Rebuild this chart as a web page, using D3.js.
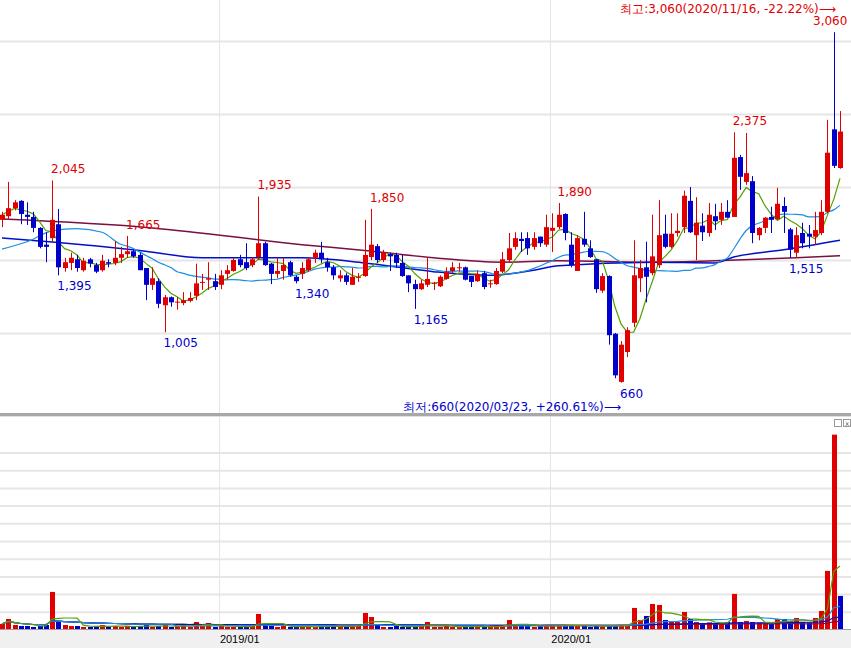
<!DOCTYPE html>
<html>
<head>
<script src="https://cdn.jsdelivr.net/npm/d3@7"></script>
<style>
  * { margin: 0; padding: 0; }
  body { background: #fff; font-family: 'DejaVu Sans', sans-serif; }
</style>
</head>
<body>
<svg id="chart" width="851" height="648"></svg>
<script>
// weekly candles [open, high, low, close]
var ohlc = [
[1775,1830,1725,1810],[1800,2035,1775,1855],[1855,1910,1840,1895],[1905,1910,1745,1815],[1810,1895,1740,1795],
[1795,1830,1690,1720],[1720,1725,1580,1590],[1605,1690,1485,1590],[1650,2045,1625,1775],[1745,1850,1395,1450],
[1445,1515,1420,1485],[1480,1550,1430,1515],[1505,1535,1420,1445],[1430,1515,1420,1495],[1505,1515,1450,1475],
[1465,1480,1410,1420],[1430,1535,1420,1495],[1485,1505,1450,1475],[1480,1630,1465,1515],[1515,1590,1480,1540],
[1540,1665,1515,1560],[1560,1570,1515,1525],[1535,1550,1430,1430],[1445,1445,1225,1330],[1330,1450,1295,1375],
[1355,1375,1170,1200],[1190,1260,1005,1245],[1245,1250,1180,1210],[1210,1245,1160,1215],[1205,1280,1190,1225],
[1220,1280,1210,1240],[1255,1475,1225,1340],[1345,1405,1295,1350],[1365,1485,1295,1375],[1355,1405,1295,1315],
[1330,1430,1300,1395],[1405,1465,1365,1430],[1425,1515,1420,1500],[1505,1535,1450,1465],[1485,1615,1430,1445],
[1465,1520,1450,1505],[1520,1935,1500,1615],[1615,1625,1460,1465],[1475,1480,1335,1405],[1405,1515,1375,1425],
[1425,1515,1365,1465],[1485,1495,1385,1395],[1385,1395,1340,1355],[1405,1485,1370,1445],[1430,1515,1420,1505],
[1515,1570,1480,1550],[1550,1625,1480,1505],[1485,1515,1420,1450],[1450,1465,1365,1395],[1375,1430,1350,1395],
[1395,1410,1330,1350],[1330,1445,1330,1385],[1380,1410,1350,1385],[1390,1775,1385,1535],[1520,1850,1500,1605],
[1595,1610,1480,1500],[1500,1570,1485,1550],[1540,1550,1425,1525],[1535,1550,1445,1480],[1480,1535,1385,1390],
[1395,1395,1280,1340],[1335,1365,1165,1300],[1300,1365,1295,1340],[1330,1520,1315,1370],[1340,1350,1295,1345],
[1320,1395,1315,1385],[1370,1450,1365,1420],[1425,1485,1410,1450],[1445,1480,1420,1450],[1450,1455,1360,1365],
[1390,1390,1315,1350],[1355,1430,1350,1405],[1410,1425,1300,1315],[1335,1365,1310,1340],[1335,1445,1330,1425],
[1420,1555,1410,1505],[1500,1685,1480,1580],[1590,1690,1570,1650],[1645,1690,1555,1630],[1650,1690,1535,1580],
[1590,1690,1570,1650],[1660,1660,1590,1615],[1605,1810,1590,1725],[1700,1820,1555,1720],[1725,1890,1710,1810],
[1815,1820,1635,1685],[1605,1690,1450,1465],[1425,1670,1425,1650],[1645,1830,1590,1605],[1580,1635,1515,1520],
[1505,1505,1275,1300],[1290,1410,1275,1390],[1390,1395,920,985],[995,1000,690,710],[665,945,660,920],
[870,1040,835,1020],[1070,1635,1040,1395],[1375,1500,1280,1445],[1450,1625,1210,1385],[1410,1810,1395,1525],
[1465,1910,1445,1670],[1680,1810,1580,1590],[1590,1820,1580,1680],[1685,1820,1660,1700],[1725,1975,1685,1940],
[1905,2000,1685,1690],[1670,1930,1500,1755],[1735,1820,1630,1690],[1685,1890,1660,1810],[1800,1885,1705,1765],
[1775,1890,1740,1830],[1830,1910,1790,1790],[1795,2375,1795,2200],[2205,2220,1980,2070],[2035,2370,2015,2095],
[2040,2075,1615,1685],[1670,1725,1635,1720],[1720,1795,1685,1790],[1795,1865,1685,1775],[1780,1995,1775,1885],
[1870,1930,1685,1830],[1710,1720,1515,1570],[1550,1725,1515,1670],[1685,1755,1580,1615],[1680,1740,1580,1660],
[1660,1830,1605,1705],[1685,1910,1670,1830],[1830,2460,1820,2235],[2395,3060,2130,2145],[2130,2520,2125,2380]
];
// weekly volume (thousand shares)
var volume = [
180,330,150,120,120,90,120,150,1140,240,150,120,120,90,90,120,150,90,120,90,
120,90,120,150,90,120,150,90,120,150,90,240,120,210,90,120,90,90,120,90,
120,480,150,120,90,120,90,90,120,90,90,120,90,150,90,120,90,120,510,390,
150,90,90,120,90,120,90,120,240,90,90,120,90,90,120,90,120,90,90,120,
150,300,150,120,120,90,120,150,120,150,120,150,120,120,90,120,90,150,120,150,
120,660,300,420,780,750,300,270,240,540,330,240,200,230,200,200,240,1080,240,270,
240,220,200,180,330,330,260,360,240,230,360,570,1770,5850,1020
];
var volColorOverride = {133: 'up', 134: 'down'};

// moving averages (index, price)
var ma20Start = [[0,1575],[4,1625],[8,1700],[12,1715],[16,1690]];
var ma60 = [[0,1650],[9,1620],[22,1565],[32,1515],[48,1515],[58,1480],[69,1420],[78,1395],[85,1430],[89,1460],[104,1485],[114,1480],[117,1520],[125,1570],[134,1635]];
var ma120 = [[0,1780],[24,1720],[48,1605],[58,1565],[69,1515],[80,1485],[89,1495],[104,1485],[114,1495],[127,1515],[134,1530]];

var highLabels = [[8,'2,045'],[20,'1,665'],[41,'1,935'],[59,'1,850'],[89,'1,890'],[117,'2,375'],[133,'3,060']];
var lowLabels = [[9,'1,395'],[26,'1,005'],[47,'1,340'],[66,'1,165'],[99,'660'],[126,'1,515']];
var priceGrid = [1000, 1500, 2000, 2500, 3000];
var xTickIndex = [35, 88];
var xTickLabels = ['2019/01', '2020/01'];
var maxText = '최고:3,060(2020/11/16, -22.22%)⟶';
var minText = '최저:660(2020/03/23, +260.61%)⟶';

var UP = '#e00000', DOWN = '#0000cc';
var MA_COLORS = ['#55a000', '#1c8fe0', '#0010c8', '#7a1040'];

var svg = d3.select('#chart');
var W = 851;
var x = d3.scaleLinear().domain([0, ohlc.length - 1]).range([2, 840]);
var y = d3.scaleLinear().domain([1000, 1500]).range([333, 260]);
var vy = d3.scaleLinear().domain([0, 6360]).range([630, 417.6]);

function movingAvg(arr, n) {
    return arr.map(function(d, i) {
        var s = arr.slice(Math.max(0, i - n + 1), i + 1);
        return d3.mean(s);
    });
}

// grids
svg.selectAll('.pg').data(priceGrid).enter().append('line')
    .attr('x1', 0).attr('x2', W).attr('y1', function(d){ return Math.round(y(d)) + 0.5; })
    .attr('y2', function(d){ return Math.round(y(d)) + 0.5; })
    .attr('stroke', '#e6e6e6').attr('stroke-width', 2);
svg.selectAll('.vg').data(d3.range(1, 11)).enter().append('line')
    .attr('x1', 0).attr('x2', W).attr('y1', function(d){ return vy(d * 530) ; })
    .attr('y2', function(d){ return vy(d * 530); })
    .attr('stroke', '#e6e6e6').attr('stroke-width', 2);
svg.selectAll('.xg').data(xTickIndex).enter().append('line')
    .attr('x1', function(d){ return Math.round(x(d)) - 1.5; }).attr('x2', function(d){ return Math.round(x(d)) - 1.5; })
    .attr('y1', 0).attr('y2', 628).attr('stroke', '#e6e6e6');

// panel separator
svg.append('rect').attr('x', 0).attr('y', 413).attr('width', W).attr('height', 3).attr('fill', '#a8a8a8');
svg.append('line').attr('x1', 0).attr('x2', W).attr('y1', 416.5).attr('y2', 416.5).attr('stroke', '#e0e0e0');

// moving averages of price
var closes = ohlc.map(function(d){ return d[3]; });
var line = d3.line().x(function(d){ return x(d[0]); }).y(function(d){ return y(d[1]); });
var smooth = d3.line().curve(d3.curveMonotoneX).x(function(d){ return x(d[0]); }).y(function(d){ return y(d[1]); });
svg.append('path').attr('d', smooth(ma120)).attr('fill', 'none').attr('stroke', MA_COLORS[3]).attr('stroke-width', 1.5);
svg.append('path').attr('d', smooth(ma60)).attr('fill', 'none').attr('stroke', MA_COLORS[2]).attr('stroke-width', 1.5);
var ma20 = movingAvg(closes, 20).map(function(v, i){ return [i, v]; }).filter(function(d){ return d[0] >= 19; });
svg.append('path').attr('d', smooth(ma20Start.concat(ma20))).attr('fill', 'none').attr('stroke', MA_COLORS[1]).attr('stroke-width', 1.2);
var ma5 = movingAvg(closes, 5).map(function(v, i){ return [i, v]; });
svg.append('path').attr('d', line(ma5)).attr('fill', 'none').attr('stroke', MA_COLORS[0]).attr('stroke-width', 1.2);

// candles
var c = svg.selectAll('.candle').data(ohlc).enter().append('g');
function col(d) { return d[3] >= d[0] ? UP : DOWN; }
c.append('line')
    .attr('x1', function(d, i){ return Math.round(x(i)) + 0.5; })
    .attr('x2', function(d, i){ return Math.round(x(i)) + 0.5; })
    .attr('y1', function(d){ return y(d[1]); }).attr('y2', function(d){ return y(d[2]); })
    .attr('stroke', col);
c.append('rect')
    .attr('x', function(d, i){ return Math.round(x(i)) - 2; })
    .attr('width', 5)
    .attr('y', function(d){ return y(Math.max(d[0], d[3])); })
    .attr('height', function(d){ return Math.max(1, Math.abs(y(d[0]) - y(d[3]))); })
    .attr('fill', col);

// high / low labels
svg.selectAll('.hl').data(highLabels).enter().append('text')
    .attr('x', function(d){ return Math.min(x(d[0]) - 1, W - 38); })
    .attr('y', function(d){ return y(ohlc[d[0]][1]) - 7; })
    .attr('fill', UP).attr('font-size', 12).text(function(d){ return d[1]; });
svg.selectAll('.ll').data(lowLabels).enter().append('text')
    .attr('x', function(d){ return x(d[0]) - 1; })
    .attr('y', function(d){ return y(ohlc[d[0]][2]) + 15; })
    .attr('fill', DOWN).attr('font-size', 12).text(function(d){ return d[1]; });
svg.append('text').attr('x', 836).attr('y', 13).attr('text-anchor', 'end')
    .attr('fill', UP).attr('font-size', 12).text(maxText);
svg.append('text').attr('x', 621).attr('y', 411).attr('text-anchor', 'end')
    .attr('fill', DOWN).attr('font-size', 12).text(minText);

// volume bars
var vcol = function(d, i) {
    var o = volColorOverride[i];
    if (o) return o === 'up' ? UP : DOWN;
    return col(ohlc[i]);
};
svg.selectAll('.vb').data(volume).enter().append('rect')
    .attr('x', function(d, i){ return Math.round(x(i)) - 2; })
    .attr('width', 5)
    .attr('y', function(d){ return vy(d); })
    .attr('height', function(d){ return vy(0) - vy(d); })
    .attr('fill', vcol);
var vline = d3.line().x(function(d){ return x(d[0]); }).y(function(d){ return vy(d[1]); });
[[120, MA_COLORS[3]], [60, MA_COLORS[2]], [20, MA_COLORS[1]], [5, MA_COLORS[0]]].forEach(function(m) {
    var pts = movingAvg(volume, m[0]).map(function(v, i){ return [i, v]; });
    svg.append('path').attr('d', vline(pts)).attr('fill', 'none').attr('stroke', m[1]).attr('stroke-width', 1.2);
});

// small panel buttons
svg.append('rect').attr('x', 834.5).attr('y', 419.5).attr('width', 7).attr('height', 7).attr('fill', '#fff').attr('stroke', '#999');
svg.append('rect').attr('x', 843.5).attr('y', 419.5).attr('width', 7).attr('height', 7).attr('fill', '#fff').attr('stroke', '#999');
svg.append('text').attr('x', 847).attr('y', 426).attr('text-anchor', 'middle').attr('font-size', 7).attr('fill', '#666').text('x');

// x axis strip
svg.append('rect').attr('x', 0).attr('y', 629).attr('width', W).attr('height', 19).attr('fill', '#f0f0f0');
svg.append('line').attr('x1', 0).attr('x2', W).attr('y1', 629.5).attr('y2', 629.5).attr('stroke', '#a0a0a0');
svg.selectAll('.xl').data(xTickIndex).enter().append('text')
    .attr('x', function(d){ return x(d) - 1; }).attr('y', 643)
    .attr('font-size', 11).attr('font-family', 'Liberation Sans Narrow, Liberation Sans, sans-serif')
    .attr('fill', '#000').text(function(d, i){ return xTickLabels[i]; });
</script>
</body>
</html>
